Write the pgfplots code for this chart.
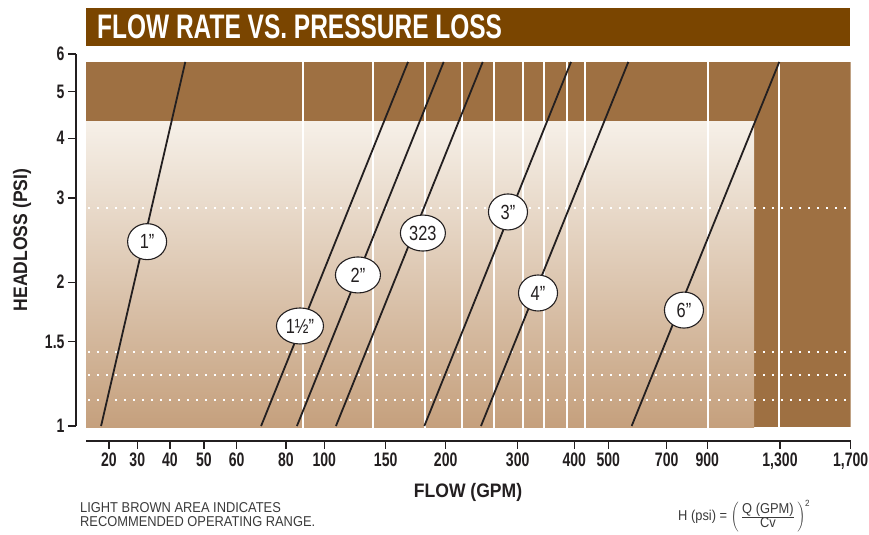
\documentclass[border=0pt]{standalone}
\usepackage{fontspec}
\setmainfont{Liberation Sans}
\newfontfamily\tickfam{Liberation Sans}[FakeStretch=0.72]
\newfontfamily\labfam{Liberation Sans}[FakeStretch=0.9]
\newfontfamily\titfam{Liberation Sans}[FakeStretch=0.72]
\newfontfamily\footfam{Liberation Sans}[FakeStretch=0.9]
\newfontfamily\lblfam{Liberation Sans}[FakeStretch=0.8]
\usepackage{pgfplots}
\pgfplotsset{compat=1.18}
\usetikzlibrary{shapes.geometric}

\definecolor{titlebrown}{RGB}{122,69,0}
\definecolor{areabrown}{RGB}{158,112,66}
\definecolor{gradtop}{RGB}{246,240,232}
\definecolor{gradbot}{RGB}{197,160,125}
\definecolor{ink}{RGB}{35,31,32}
\definecolor{foot}{RGB}{58,58,58}

% piecewise-linear position of a flow value (GPM) on the chart's non-uniform flow scale
\newcommand\gpmseg[4]{\pgfmathsetmacro\gpmres{#2+(\gv-#1)/(#3-#1)*(#4-#2)}}
\newcommand\gpmpos[1]{%
  \pgfmathsetmacro\gv{#1}%
  \ifdim\gv pt<30pt\relax \gpmseg{20}{109}{30}{137.3}%
  \else\ifdim\gv pt<40pt\relax \gpmseg{30}{137.3}{40}{170}%
  \else\ifdim\gv pt<50pt\relax \gpmseg{40}{170}{50}{204}%
  \else\ifdim\gv pt<60pt\relax \gpmseg{50}{204}{60}{236.7}%
  \else\ifdim\gv pt<80pt\relax \gpmseg{60}{236.7}{80}{286}%
  \else\ifdim\gv pt<100pt\relax \gpmseg{80}{286}{100}{324.3}%
  \else\ifdim\gv pt<150pt\relax \gpmseg{100}{324.3}{150}{385.7}%
  \else\ifdim\gv pt<200pt\relax \gpmseg{150}{385.7}{200}{445.7}%
  \else\ifdim\gv pt<300pt\relax \gpmseg{200}{445.7}{300}{517.7}%
  \else\ifdim\gv pt<400pt\relax \gpmseg{300}{517.7}{400}{574.3}%
  \else\ifdim\gv pt<500pt\relax \gpmseg{400}{574.3}{500}{608.3}%
  \else\ifdim\gv pt<700pt\relax \gpmseg{500}{608.3}{700}{666.7}%
  \else\ifdim\gv pt<900pt\relax \gpmseg{700}{666.7}{900}{707.3}%
  \else\ifdim\gv pt<1300pt\relax \gpmseg{900}{707.3}{1300}{780}%
  \else \gpmseg{1300}{780}{1700}{850.7}%
  \fi\fi\fi\fi\fi\fi\fi\fi\fi\fi\fi\fi\fi\fi}

\begin{document}
\begin{tikzpicture}
\useasboundingbox (0,0) rectangle (869bp,-535bp);
\fill[titlebrown] (86bp,-8bp) rectangle (850bp,-46bp);
\node[anchor=base west, text=white, inner sep=0] at (97bp,-38bp)
  {\titfam\bfseries\fontsize{34bp}{36bp}\selectfont FLOW RATE VS. PRESSURE LOSS};
\begin{axis}[
  at={(76bp,-441bp)}, anchor=south west,
  scale only axis, width=774.7bp, height=387bp,
  ymode=log,
  x coord trafo/.code={\begingroup
     \pgflibraryfpuifactive{}{\pgfkeys{/pgf/fpu=true}}%
     \pgfmathparse{#1}\pgfmathfloattofixed{\pgfmathresult}\let\gin\pgfmathresult
     \pgfkeys{/pgf/fpu=false}%
     \gpmpos{\gin}\xdef\gpmglobal{\gpmres}\endgroup\let\pgfmathresult\gpmglobal},
  xmin=8.34, xmax=1700, ymin=0.9303, ymax=6,
  axis x line*=bottom, axis y line*=left,
  x axis line style={shorten <=10bp},
  y axis line style={shorten <=15bp},
  axis line style={ink, line width=1.2bp},
  tick style={ink, line width=1.2bp},
  tick align=outside, major tick length=8bp,
  xminorticks=false, yminorticks=false,
  xtick={20,30,40,50,60,80,100,150,200,300,400,500,700,900,1300,1700},
  xticklabels={20,30,40,50,60,80,100,150,200,300,400,500,700,900,{1,300},{1,700}},
  ytick={1,1.5,2,3,4,5,6},
  yticklabels={1,1.5,2,3,4,5,6},
  ticklabel style={font=\tickfam\bfseries\fontsize{19.5bp}{20bp}\selectfont, text=ink},
  clip=true,
]
% background areas
\fill[areabrown] (axis cs:11.9,0.9938) rectangle (axis cs:1700,5.775);
\shade[top color=gradtop, bottom color=gradbot] (axis cs:11.9,0.9938) rectangle (axis cs:1157,4.33);
% white vertical grid lines
\pgfplotsinvokeforeach{89,140,183,223,267,309,346.5,387,431.5,904,1295}{
  \addplot[white, line width=2bp, forget plot] coordinates {(#1,0.99) (#1,5.775)};
}
% dotted reference lines
\pgfplotsinvokeforeach{2.858,1.426,1.280,1.133}{
  \addplot[white, line width=2bp, dash pattern=on 2bp off 7bp, forget plot] coordinates {(12.5,#1) (1700,#1)};
}
% valve size curves
\addplot[ink, line width=1.8bp] coordinates {(17.2,1) (44.5,5.775)};
\addplot[ink, line width=1.8bp] coordinates {(69.9,1) (168.6,5.775)};
\addplot[ink, line width=1.8bp] coordinates {(85.7,1) (198.3,5.775)};
\addplot[ink, line width=1.8bp] coordinates {(109.5,1) (251.4,5.775)};
\addplot[ink, line width=1.8bp] coordinates {(182.2,1) (394.2,5.775)};
\addplot[ink, line width=1.8bp] coordinates {(249,1) (568.5,5.775)};
\addplot[ink, line width=1.8bp] coordinates {(580,1) (1296,5.775)};
% labels
\tikzset{lab/.style={ellipse, draw=ink, fill=white, line width=1.1bp, inner xsep=0bp, inner ysep=1bp,
  minimum width=39bp, minimum height=36bp, text=ink, font=\lblfam\fontsize{20.5bp}{21bp}\selectfont}}
\node[lab] at (axis cs:33,2.43) {1”};
\node[lab, minimum width=47bp] at (axis cs:87.3,1.619) {1½”};
\node[lab, minimum width=45bp] at (axis cs:127.4,2.07) {2”};
\node[lab, minimum width=45bp] at (axis cs:181,2.533) {323};
\node[lab] at (axis cs:286.5,2.804) {3”};
\node[lab] at (axis cs:335.9,1.898) {4”};
\node[lab] at (axis cs:785,1.748) {6”};
\end{axis}
\node[rotate=90, text=ink] at (22bp,-240bp) {\labfam\bfseries\fontsize{19.5bp}{22bp}\selectfont HEADLOSS (PSI)};
\node[text=ink] at (468bp,-492bp) {\labfam\bfseries\fontsize{19.5bp}{22bp}\selectfont FLOW (GPM)};
\node[anchor=north west, align=left, inner sep=0, text=foot, font=\footfam\fontsize{14.3bp}{14bp}\selectfont]
  at (80bp,-502bp) {LIGHT BROWN AREA INDICATES\\RECOMMENDED OPERATING RANGE.};
\node[anchor=west, inner sep=0, text=foot, font=\footfam\fontsize{14.3bp}{14bp}\selectfont] at (678bp,-516bp)
  {H (psi) = $\left(\,\frac{\hbox{\footfam\fontsize{14.3bp}{14bp}\selectfont Q (GPM)}}{\hbox{\footfam\fontsize{14.3bp}{14bp}\selectfont Cv}}\,\right)^{\hbox{\footfam\fontsize{9bp}{9bp}\selectfont 2}}$};
\end{tikzpicture}
\end{document}
